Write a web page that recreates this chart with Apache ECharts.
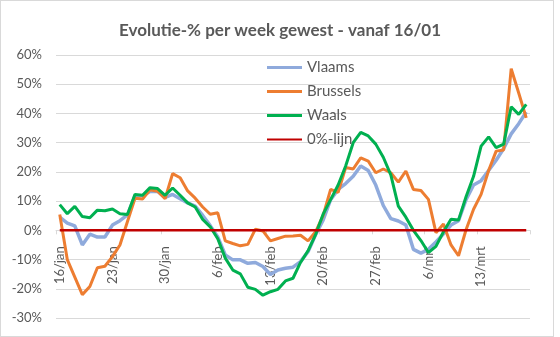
<!DOCTYPE html>
<html>
<head>
<meta charset="utf-8">
<script src="https://cdn.jsdelivr.net/npm/echarts@6/dist/echarts.min.js"></script>
<style>
html,body{margin:0;padding:0;background:#fff;}
#wrap{position:absolute;left:0;top:0;width:552px;height:335px;border:1px solid #d9d9d9;}
#chart{position:absolute;left:0;top:0;width:560px;height:337px;}
</style>
</head>
<body>
<div id="wrap"></div>
<div id="chart"></div>
<script>
const dates = [
 "16/jan","17/jan","18/jan","19/jan","20/jan","21/jan","22/jan","23/jan","24/jan","25/jan","26/jan","27/jan","28/jan","29/jan","30/jan","31/jan",
 "1/feb","2/feb","3/feb","4/feb","5/feb","6/feb","7/feb","8/feb","9/feb","10/feb","11/feb","12/feb","13/feb","14/feb","15/feb","16/feb","17/feb","18/feb","19/feb","20/feb","21/feb","22/feb","23/feb","24/feb","25/feb","26/feb","27/feb","28/feb",
 "1/mrt","2/mrt","3/mrt","4/mrt","5/mrt","6/mrt","7/mrt","8/mrt","9/mrt","10/mrt","11/mrt","12/mrt","13/mrt","14/mrt","15/mrt","16/mrt","17/mrt","18/mrt","19/mrt"
];
const vlaams = [4.5,2.5,1.5,-5,-1.3,-2.3,-2.3,1.8,3.3,5.3,11.8,11.8,13.3,13.3,11.3,12.3,
 10.8,9.4,8.3,5.1,1.6,-2.3,-8.4,-10.1,-10.1,-11.3,-11,-12.4,-15.1,-13.6,-13,-12.6,-10.7,-7.3,-1.5,3.5,10.5,14,16,18.5,22,20.5,15.5,8.5,
 4,3.2,1.8,-6.5,-7.8,-6.5,-4,-1.2,1.8,3.3,10.5,15.5,17,20.5,24,28,33,36.5,40.5];
const brussels = [5.4,-10,-16,-22,-19.2,-12.8,-12.3,-9,-5,3,11,10.7,13.9,13.4,10.8,19.4,
 18,13.5,11,8,5.5,6,-3.6,-4.5,-5.3,-4.8,0.4,-0.2,-3.6,-2.8,-2,-1.9,-1.7,-3.6,-0.5,5,14,13,21.5,21,24.8,23.7,19.7,21,
 19.7,16.5,20.3,14,13.6,10.6,-0.8,2.2,-5,-8.7,0.2,7.2,12.3,20.5,27.1,27.5,55.3,47,38.5];
const waals = [8.8,5.7,8.2,4.7,4.3,6.9,6.7,7.3,5.7,5.4,12.3,12,14.6,14.3,12,14.5,
 12,9.4,8,3.7,1.2,-2.9,-9.5,-13.6,-14.9,-19.5,-20.2,-22.2,-21,-20.2,-17.3,-16.4,-11,-7,-1.5,5.5,10.5,15.5,22,30,33.5,32.3,29.5,25,
 19,8.3,4.5,0,-3.5,-7.6,-5.5,-0.5,3.8,3.5,11.5,18.5,28.8,32,28.3,29.5,42.3,39.7,43.1];
const nullijn = [0,0,0,0,0,0,0,0,0,0,0,0,0,0,0,0,0,0,0,0,0,0,0,0,0,0,0,0,0,0,0,0,0,0,0,0,0,0,0,0,0,0,0,0,0,0,0,0,0,0,0,0,0,0,0,0,0,0,0,0,0,0,0];
const seriesNames = ["Vlaams","Brussels","Waals","0%-lijn"];
const colors = ["#8FAADC","#ED7D31","#00B050","#C00000"];
const yMin = -30, yMax = 60;

const FONT = "Lato";
const GRID = {left:56, right:30, top:55, bottom:19};
const plotH = 337 - GRID.top - GRID.bottom;
const zeroOffset = -plotH * (0 - yMin) / (yMax - yMin);

const chart = echarts.init(document.getElementById('chart'), null, {renderer:'canvas'});
const mk = (i, data, w) => ({
  name: seriesNames[i], type:'line', data: data, symbol:'none', smooth:false,
  lineStyle:{color:colors[i], width:w}, itemStyle:{color:colors[i]},
  emphasis:{disabled:true}, animation:false
});
const icon3 = 'path://M0,0 L35,0 L35,3 L0,3 Z';
const icon2 = 'path://M0,0 L35,0 L35,2 L0,2 Z';
chart.setOption({
  animation:false,
  backgroundColor:'transparent',
  title:{text:"Evolutie-% per week gewest - vanaf 16/01", left:'center', top:17,
    textStyle:{fontFamily:FONT, fontWeight:'bold', fontSize:17, color:'#595959'}},
  legend:{orient:'vertical', left:262, top:55, itemWidth:35, itemHeight:14, itemGap:9,
    data:[
      {name:seriesNames[0], icon:icon3, itemStyle:{color:colors[0]}},
      {name:seriesNames[1], icon:icon3, itemStyle:{color:colors[1]}},
      {name:seriesNames[2], icon:icon3, itemStyle:{color:colors[2]}},
      {name:seriesNames[3], icon:icon2, itemStyle:{color:colors[3]}}
    ],
    textStyle:{fontFamily:FONT, fontSize:15, color:'#595959'}},
  grid:Object.assign({containLabel:false, outerBoundsMode:'none'}, GRID),
  xAxis:{type:'category', data:dates, boundaryGap:true, position:'bottom', offset:zeroOffset,
    axisLine:{onZero:false, lineStyle:{color:'#d9d9d9', width:1}},
    axisTick:{show:true, interval:6, length:4, lineStyle:{color:'#d9d9d9'}},
    axisLabel:{interval:6, rotate:90, margin:16, fontFamily:FONT, fontSize:13, color:'#595959'},
    splitLine:{show:false}},
  yAxis:{type:'value', min:yMin, max:yMax, interval:10,
    axisLine:{show:false}, axisTick:{show:false},
    axisLabel:{formatter:'{value}%', margin:14, fontFamily:FONT, fontSize:13, color:'#595959'},
    splitLine:{lineStyle:{color:'#d9d9d9', width:1}}},
  series:[mk(0,vlaams,3.5), mk(1,brussels,3), mk(2,waals,3), mk(3,nullijn,2.5)]
});
</script>
</body>
</html>
